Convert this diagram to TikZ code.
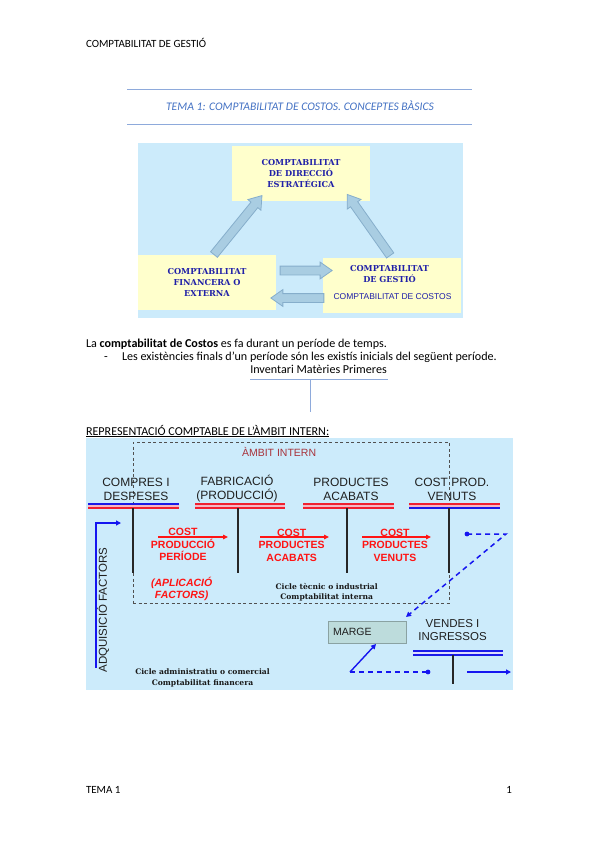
\documentclass[tikz,border=0pt]{standalone}
\usepackage{fontspec}
\setmainfont{Carlito}
\newfontfamily\arialf{Liberation Sans}
\newfontfamily\bookf{DejaVu Serif}
\usetikzlibrary{shapes.arrows,arrows.meta,calc}
\definecolor{bgblue}{HTML}{CCEBFB}
\definecolor{boxyellow}{HTML}{FFFFCC}
\definecolor{navy}{HTML}{2020A8}
\definecolor{arrfill}{HTML}{A9CDE2}
\definecolor{arredge}{HTML}{86AECB}
\definecolor{titleblue}{HTML}{4472C4}
\definecolor{rulblue}{HTML}{8EAADB}
\definecolor{ambred}{HTML}{A8323A}
\definecolor{costred}{HTML}{FF1414}
\definecolor{lineblue}{HTML}{1515F0}
\definecolor{pinkband}{HTML}{F5B8C4}
\definecolor{bandred}{HTML}{F02030}
\definecolor{bandblue}{HTML}{1A1AE8}
\definecolor{margefill}{HTML}{BDDCDC}
\definecolor{margeedge}{HTML}{8AA2A2}
\definecolor{dashgray}{HTML}{505050}
\newcommand\blockarrow[3]{\path let \p1=($(#3)-(#2)$), \n1={atan2(\y1,\x1)}, \n2={veclen(\x1,\y1)} in ($(#2)!0.5!(#3)$) node[blockarr, rotate=\n1, minimum height=\n2] (#1) {};}
\begin{document}
\begin{tikzpicture}[x=1pt,y=-1pt,
  every node/.style={inner sep=0pt, outer sep=0pt},
  doctext/.style={font=\fontsize{11}{13.4}\selectfont, anchor=base west},
  bodytext/.style={font=\fontsize{12.1}{14}\selectfont, anchor=base west},
  ybox/.style={fill=boxyellow, minimum width=138pt, minimum height=55pt, anchor=north west},
  navytxt/.style={text=navy, font=\bookf\bfseries\fontsize{8.2}{10.6}\selectfont, align=center},
  blockarr/.style={single arrow, draw=arredge, fill=arrfill, line width=0.8pt, inner xsep=0pt, inner ysep=4pt, single arrow head extend=4pt, single arrow tip angle=70},
  colhead/.style={font=\arialf\fontsize{12}{14}\selectfont, align=center, text=black!88},
  redtxt/.style={font=\arialf\bfseries\fontsize{10.5}{12.5}\selectfont, text=costred, align=center},
  redarr/.style={draw=costred, line width=1.1pt, -{Triangle[length=5pt,width=4.5pt]}},
  cicle/.style={font=\bookf\bfseries\fontsize{7.6}{10.4}\selectfont, align=center, text=black!90},
  bandr/.style={draw=bandred, line width=1.3pt},
  bandb/.style={draw=bandblue, line width=1.3pt},
  tline/.style={draw=black!85, line width=1.8pt},
  bluearr/.style={draw=lineblue, line width=1.4pt, -{Triangle[length=5pt,width=5pt]}},
  bluedash/.style={draw=lineblue, line width=1.5pt, dash pattern=on 5pt off 4pt}
]
\path[use as bounding box] (0,0) rectangle (599,848);
\fill[white] (0,0) rectangle (599,848);

% header and title
\node[doctext] (hdr) at (86,47.5) {COMPTABILITAT DE GESTIÓ};
\coordinate (r1l) at (127,90); \coordinate (r1r) at (472,90);
\coordinate (r2l) at (127,125); \coordinate (r2r) at (472,125);
\draw[rulblue, line width=1pt] (r1l) -- (r1r);
\draw[rulblue, line width=1pt] (r2l) -- (r2r);
\node[font=\itshape\fontsize{11.6}{13}\selectfont, text=titleblue, anchor=base] (title) at (300,111) {TEMA 1: COMPTABILITAT DE COSTOS. CONCEPTES BÀSICS};

% top diagram
\node[fill=bgblue, minimum width=325pt, minimum height=175pt, anchor=north west] (bg1) at (138,143) {};
\node[ybox, navytxt] (dir) at (232,146) {COMPTABILITAT\\DE DIRECCIÓ\\ESTRATÉGICA};
\node[ybox, navytxt] (fin) at (138,255) {COMPTABILITAT\\FINANCERA O\\EXTERNA};
\node[ybox] (ges) at (323,258) {};
\node[navytxt] (gestxt) at (389.5,274.2) {COMPTABILITAT\\DE GESTIÓ};
\node[font=\arialf\fontsize{8.5}{10}\selectfont, text=navy, anchor=base] (costxt) at (392.5,299) {COMPTABILITAT DE COSTOS};

\coordinate (a1s) at (212,257); \coordinate (a1e) at (260,198);
\coordinate (a2s) at (392,258); \coordinate (a2e) at (349,197);
\coordinate (a3s) at (277,270.5); \coordinate (a3e) at (329,270.5);
\coordinate (a4s) at (327,298); \coordinate (a4e) at (274,298);
\blockarrow{ba1}{a1s}{a1e}
\blockarrow{ba2}{a2s}{a2e}
\blockarrow{ba3}{a3s}{a3e}
\blockarrow{ba4}{a4s}{a4e}

% body text
\node[bodytext] (p1) at (86,347) {La \textbf{comptabilitat de Costos} es fa durant un període de temps.};
\node[bodytext] (dash1) at (104,360) {-};
\node[bodytext] (p2) at (122,360) {Les existències finals d’un període són les existís inicials del següent període.};
\node[bodytext, anchor=base] (inv) at (318.5,373) {Inventari Matèries Primeres};
\coordinate (ul) at (250,379); \coordinate (ur) at (388,379);
\coordinate (vt) at (310,379); \coordinate (vb) at (310,412);
\draw[rulblue, line width=0.9pt] (ul) -- (ur);
\draw[rulblue, line width=0.9pt] (vt) -- (vb);
\node[bodytext] (rep) at (86,435) {\underline{REPRESENTACIÓ COMPTABLE DE L’ÀMBIT INTERN:}};

% lower diagram
\node[fill=bgblue, minimum width=427pt, minimum height=252pt, anchor=north west] (bg2) at (86,438) {};
\node[draw=dashgray, dash pattern=on 3pt off 2.5pt, line width=0.9pt, minimum width=316pt, minimum height=161pt, anchor=north west] (ambit) at (133,442) {};
\node[font=\arialf\fontsize{10.5}{12}\selectfont, text=ambred, anchor=base west] (ambtxt) at (242,456) {ÀMBIT INTERN};

\node[colhead] (h1) at (136,489) {COMPRES I\\DESPESES};
\node[colhead] (h2) at (237,489) {FABRICACIÓ\\(PRODUCCIÓ)};
\node[colhead] (h3) at (351,489) {PRODUCTES\\ACABATS};
\node[colhead] (h4) at (452,489) {COST PROD.\\VENUTS};

% bands
\fill[pinkband] (88,504) rectangle (179,508);
\draw[bandb] (88,504) -- (179,504); \draw[bandr] (88,508) -- (179,508);
\fill[pinkband] (195,504) rectangle (285,508);
\draw[bandr] (195,504) -- (285,504); \draw[bandr] (195,508) -- (285,508);
\fill[pinkband] (303,504) rectangle (394,508);
\draw[bandr] (303,504) -- (394,504); \draw[bandr] (303,508) -- (394,508);
\fill[pinkband] (409,504) rectangle (500,508);
\draw[bandr] (409,504) -- (500,504); \draw[bandb] (409,508) -- (500,508);

\draw[tline] (133,508) -- (133,573);
\draw[tline] (238,508) -- (238,573);
\draw[tline] (347,508) -- (347,573);
\draw[tline] (449,508) -- (449,573);

% red costs
\coordinate (ra1s) at (158,537); \coordinate (ra1e) at (228,537);
\coordinate (ra2s) at (260,537); \coordinate (ra2e) at (329,537);
\coordinate (ra3s) at (362,537); \coordinate (ra3e) at (431,537);
\draw[redarr] (ra1s) -- (ra1e);
\draw[redarr] (ra2s) -- (ra2e);
\draw[redarr] (ra3s) -- (ra3e);
\node[redtxt] (rc1) at (183,544.5) {COST\\PRODUCCIÓ\\PERÍODE};
\node[redtxt] (rc2) at (291.7,545) {COST\\PRODUCTES\\ACABATS};
\node[redtxt] (rc3) at (395,545) {COST\\PRODUCTES\\VENUTS};
\node[redtxt, font=\arialf\bfseries\itshape\fontsize{10.5}{12.5}\selectfont] (rc4) at (181.7,589) {(APLICACIÓ\\FACTORS)};

\node[cicle] (c1) at (326.7,592) {Cicle tècnic o industrial\\Comptabilitat interna};
\node[cicle] (c2) at (202.5,678) {Cicle administratiu o comercial\\Comptabilitat financera};

\node[font=\arialf\fontsize{11.5}{12}\selectfont, rotate=90, text=black!88] (adq) at (103,610) {ADQUISICIÓ FACTORS};
\coordinate (bl0) at (96,668); \coordinate (bl1) at (96,523); \coordinate (bl2) at (121,523);
\draw[bluearr, line join=miter] (bl0) -- (bl1) -- (bl2);

% marge and vendes
\node[fill=margefill, draw=margeedge, line width=0.8pt, minimum width=78pt, minimum height=22pt, anchor=north west] (marge) at (328,621) {};
\node[font=\arialf\fontsize{10.5}{12}\selectfont, anchor=base west, text=black!88] (margetxt) at (333,635) {MARGE};
\node[colhead, font=\arialf\fontsize{11.5}{13.5}\selectfont] (h5) at (452.5,630) {VENDES I\\INGRESSOS};
\fill[bandblue!15] (413,651) rectangle (503,655);
\draw[bandb] (413,651) -- (503,651); \draw[bandb] (413,655) -- (503,655);
\draw[tline] (453,655) -- (453,684);

\coordinate (d1) at (467,534); \coordinate (d1k) at (506,534);
\coordinate (mtip) at ($(marge.north east)+(0,-4)$);
\fill[lineblue] (d1) circle (2.4);
\draw[bluedash, -{Triangle[length=5pt,width=5pt]}] (d1) -- (d1k) -- (mtip);
\coordinate (d2s) at (350,672); \coordinate (d2e) at (428,672);
\draw[bluedash] (d2s) -- (d2e);
\fill[lineblue] (d2e) circle (2.4);
\coordinate (mbot) at ($(marge.south)+(9,1)$);
\draw[bluearr] (d2s) -- (mbot);
\coordinate (v1) at (467,672); \coordinate (v2) at (511,672);
\draw[bluearr] (v1) -- (v2);

% footer
\node[doctext] (ft1) at (86,793) {TEMA 1};
\node[doctext, anchor=base east] (ft2) at (512,793) {1};
\end{tikzpicture}
\end{document}
